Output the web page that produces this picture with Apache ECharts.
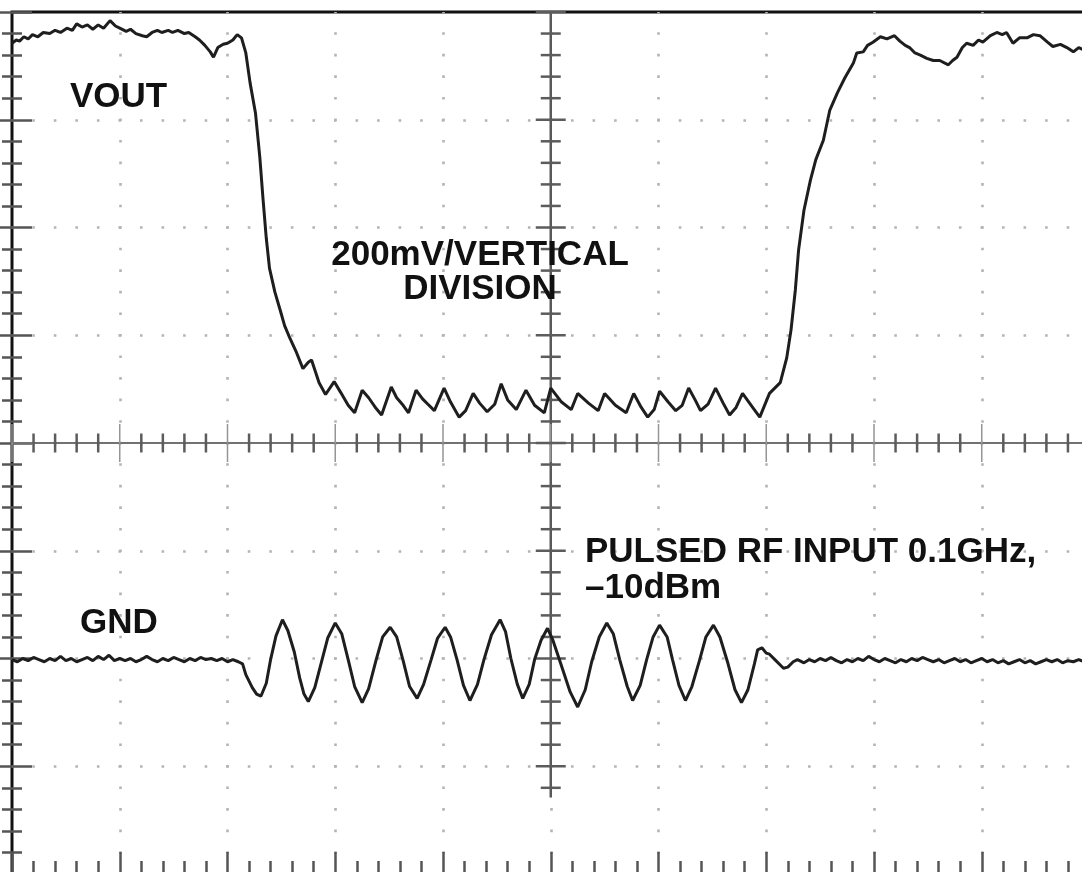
<!DOCTYPE html>
<html>
<head>
<meta charset="utf-8">
<script src="https://cdn.jsdelivr.net/npm/echarts@6/dist/echarts.min.js"></script>
<style>
  html, body { margin: 0; padding: 0; background: #ffffff; }
  #chart { width: 1082px; height: 872px; }
</style>
</head>
<body>
<div id="chart"></div>
<script>
// Scope capture: horizontal position in screen divisions (0..10),
// vertical level in screen divisions (0..8, counted from the bottom edge).

// VOUT trace (detector output, 200mV per vertical division)
const voutTime = [
  0.00,0.04,0.07,0.11,0.15,0.19,0.24,0.29,0.35,0.40,0.45,0.51,0.56,0.60,0.65,0.70,0.75,0.80,0.85,0.91,
  0.96,1.00,1.06,1.10,1.15,1.21,1.25,1.30,1.35,1.39,1.45,1.49,1.54,1.60,1.64,1.70,1.74,1.79,1.84,1.87,
  1.91,1.96,2.00,2.05,2.09,2.13,2.17,2.21,2.26,2.30,2.33,2.36,2.39,2.44,2.49,2.53,2.58,2.64,2.70,2.75,
  2.78,2.85,2.91,2.99,3.05,3.12,3.18,3.25,3.31,3.38,3.43,3.52,3.57,3.63,3.68,3.75,3.81,3.86,3.92,4.01,
  4.07,4.15,4.21,4.28,4.34,4.41,4.48,4.54,4.60,4.68,4.77,4.85,4.94,5.00,5.10,5.19,5.25,5.35,5.44,5.50,
  5.60,5.70,5.77,5.84,5.90,5.96,6.01,6.09,6.16,6.22,6.28,6.34,6.39,6.46,6.53,6.60,6.66,6.72,6.78,6.86,
  6.94,7.03,7.13,7.19,7.23,7.27,7.30,7.35,7.41,7.46,7.53,7.59,7.66,7.73,7.81,7.84,7.90,7.94,7.99,8.06,
  8.12,8.19,8.24,8.29,8.33,8.38,8.43,8.49,8.55,8.61,8.69,8.73,8.77,8.82,8.86,8.92,8.97,9.01,9.08,9.14,
  9.19,9.23,9.29,9.35,9.42,9.48,9.54,9.61,9.66,9.73,9.79,9.85,9.90,9.96,10.00
];
const voutLevel = [
  7.71,7.74,7.73,7.77,7.75,7.79,7.77,7.81,7.80,7.83,7.81,7.85,7.83,7.89,7.86,7.88,7.84,7.88,7.85,7.92,
  7.87,7.85,7.82,7.84,7.80,7.78,7.77,7.81,7.83,7.81,7.83,7.81,7.83,7.80,7.81,7.77,7.74,7.69,7.63,7.58,
  7.67,7.70,7.71,7.74,7.79,7.76,7.62,7.34,7.06,6.65,6.26,5.90,5.62,5.40,5.23,5.09,4.97,4.84,4.69,4.75,
  4.77,4.56,4.45,4.57,4.47,4.35,4.28,4.49,4.42,4.32,4.26,4.52,4.42,4.35,4.28,4.49,4.41,4.36,4.30,4.51,
  4.38,4.24,4.30,4.46,4.37,4.29,4.36,4.55,4.40,4.31,4.49,4.35,4.28,4.51,4.38,4.31,4.46,4.37,4.30,4.46,
  4.35,4.28,4.46,4.33,4.24,4.31,4.48,4.38,4.30,4.35,4.51,4.40,4.30,4.36,4.51,4.37,4.26,4.33,4.46,4.35,
  4.24,4.46,4.56,4.79,5.05,5.42,5.79,6.16,6.44,6.63,6.81,7.09,7.25,7.39,7.53,7.62,7.63,7.69,7.72,7.77,
  7.75,7.78,7.73,7.69,7.67,7.62,7.60,7.57,7.55,7.55,7.51,7.55,7.58,7.67,7.71,7.69,7.74,7.72,7.78,7.81,
  7.79,7.81,7.71,7.76,7.76,7.79,7.78,7.72,7.68,7.70,7.67,7.63,7.67,7.64,7.65
];

// GND trace (pulsed RF input, 0.1GHz at -10dBm)
const gndTime = [
  0.00,0.05,0.10,0.15,0.20,0.25,0.30,0.35,0.40,0.45,0.50,0.55,0.60,0.65,0.70,0.75,0.80,0.85,0.90,0.95,
  1.00,1.05,1.10,1.15,1.20,1.25,1.30,1.35,1.40,1.45,1.50,1.55,1.60,1.65,1.70,1.75,1.80,1.85,1.90,1.95,
  2.00,2.05,2.10,2.14,2.17,2.23,2.27,2.31,2.36,2.40,2.45,2.51,2.56,2.62,2.67,2.71,2.75,2.81,2.87,2.93,
  3.00,3.06,3.12,3.18,3.25,3.31,3.38,3.44,3.51,3.57,3.63,3.69,3.76,3.82,3.89,3.95,4.02,4.07,4.13,4.19,
  4.25,4.32,4.38,4.45,4.53,4.58,4.63,4.69,4.74,4.80,4.85,4.91,4.97,5.02,5.09,5.18,5.25,5.32,5.38,5.45,
  5.52,5.58,5.64,5.71,5.76,5.83,5.89,5.95,6.01,6.08,6.13,6.19,6.25,6.31,6.38,6.44,6.51,6.57,6.64,6.71,
  6.77,6.83,6.89,6.92,6.96,7.00,7.03,7.08,7.13,7.16,7.20,7.25,7.29,7.35,7.40,7.45,7.50,7.55,7.60,7.65,
  7.70,7.75,7.80,7.85,7.90,7.95,8.00,8.05,8.10,8.15,8.20,8.25,8.30,8.35,8.40,8.45,8.50,8.55,8.60,8.65,
  8.70,8.75,8.80,8.85,8.90,8.95,9.00,9.05,9.10,9.15,9.20,9.25,9.30,9.35,9.40,9.45,9.50,9.55,9.60,9.65,
  9.70,9.75,9.80,9.85,9.90,9.95,10.00
];
const gndLevel = [
  1.99,1.97,2.00,1.98,2.01,1.99,1.97,2.00,1.98,2.02,1.98,2.00,1.97,1.99,2.01,1.98,2.02,1.99,2.03,1.98,
  2.00,1.98,2.00,1.97,1.99,2.02,1.99,1.97,2.00,1.98,2.01,1.99,1.97,2.00,1.98,2.01,1.99,2.00,1.98,2.00,
  1.97,1.99,1.97,1.95,1.85,1.73,1.67,1.65,1.77,1.99,2.21,2.36,2.26,2.06,1.82,1.67,1.60,1.73,1.96,2.19,
  2.33,2.23,1.99,1.74,1.59,1.72,1.99,2.20,2.29,2.20,1.98,1.74,1.63,1.76,1.99,2.19,2.29,2.20,1.99,1.75,
  1.61,1.76,1.99,2.22,2.36,2.25,2.00,1.76,1.63,1.76,1.99,2.17,2.28,2.17,1.96,1.69,1.55,1.71,1.97,2.20,
  2.33,2.23,1.99,1.74,1.61,1.75,1.99,2.20,2.31,2.20,1.99,1.75,1.61,1.74,1.98,2.20,2.31,2.20,1.97,1.71,
  1.59,1.71,1.95,2.08,2.10,2.05,2.04,1.99,1.94,1.91,1.92,1.97,1.99,1.96,1.99,1.97,2.00,1.98,2.01,1.98,
  1.96,1.99,1.97,2.00,1.98,2.02,1.99,1.97,2.00,1.98,1.96,1.99,1.97,2.00,1.98,2.01,1.99,1.97,1.99,1.96,
  1.98,2.00,1.97,1.99,1.96,1.98,2.00,1.97,1.99,1.96,1.98,1.95,1.97,1.99,1.96,1.98,1.95,1.97,1.99,1.97,
  1.99,1.96,1.98,1.97,1.99,1.97,1.98
];

const toPairs = (t, v) => t.map((x, i) => [x, v[i]]);

const chart = echarts.init(document.getElementById('chart'), null, { renderer: 'canvas' });

const FONT = 'bold 35px "Liberation Sans", Arial, Helvetica, sans-serif';
const tickStyle = { color: '#555555', width: 2.5 };
const dotStyle = { color: '#b4b4b4', width: 2.6, type: [2.6, 18.95], dashOffset: 1.3 };

// Centre cross of the graticule, with its sub-division ticks
function renderCentreCross(params, api) {
  const children = [];
  const seg = (a, b, stroke, lineWidth) => children.push({
    type: 'line',
    shape: { x1: a[0], y1: a[1], x2: b[0], y2: b[1] },
    style: { stroke, lineWidth }
  });
  seg(api.coord([0, 4]), api.coord([10, 4]), '#727272', 2);
  seg(api.coord([5, 8]), api.coord([5, 0.71]), '#595959', 2.5);
  for (let i = 0; i <= 50; i++) {
    const p = api.coord([i / 5, 4]);
    const major = i % 5 === 0;
    const h = major ? 19 : 9.5;
    seg([p[0], p[1] - h], [p[0], p[1] + h], major ? '#959595' : '#5c5c5c', major ? 1.5 : 2.5);
  }
  for (let i = 4; i <= 40; i++) {
    const p = api.coord([5, i / 5]);
    const major = i % 5 === 0;
    const w = major ? 15 : 10;
    seg([p[0] - w, p[1]], [p[0] + w, p[1]], '#5c5c5c', 2.5);
  }
  return { type: 'group', children };
}

const baseX = {
  type: 'value', min: 0, max: 10, interval: 1,
  axisLine: { show: false }, axisLabel: { show: false },
  axisTick: { show: true, inside: true, length: 22, lineStyle: tickStyle },
  minorTick: { show: true, splitNumber: 5, length: 13, lineStyle: tickStyle }
};
const baseY = {
  type: 'value', min: 0, max: 8, interval: 1,
  axisLine: { show: false }, axisLabel: { show: false },
  axisTick: { show: true, inside: true, length: 20, lineStyle: tickStyle },
  minorTick: { show: true, splitNumber: 5, length: 10, lineStyle: tickStyle }
};

chart.setOption({
  animation: false,
  backgroundColor: '#ffffff',
  grid: {
    left: 12, top: 12, width: 1077.5, height: 862,
    show: true, borderColor: '#111111', borderWidth: 3,
    backgroundColor: 'transparent',
    outerBoundsMode: 'none'
  },
  xAxis: [
    Object.assign({}, baseX, { position: 'bottom',
      splitLine: { show: true, showMinLine: false, showMaxLine: false, lineStyle: dotStyle } }),
    Object.assign({}, baseX, { position: 'top', splitLine: { show: false } })
  ],
  yAxis: [
    Object.assign({}, baseY, { position: 'left',
      splitLine: { show: true, showMinLine: false, showMaxLine: false, lineStyle: dotStyle } }),
    Object.assign({}, baseY, { position: 'right', splitLine: { show: false } })
  ],
  series: [
    {
      type: 'custom', name: 'graticule', silent: true, z: 1,
      xAxisIndex: 0, yAxisIndex: 0,
      data: [[5, 4]],
      renderItem: renderCentreCross
    },
    {
      type: 'line', name: 'VOUT', xAxisIndex: 0, yAxisIndex: 0, z: 5,
      data: toPairs(voutTime, voutLevel),
      showSymbol: false, symbol: 'none', smooth: false,
      lineStyle: { color: '#1e1e1e', width: 3 }
    },
    {
      type: 'line', name: 'GND', xAxisIndex: 0, yAxisIndex: 0, z: 5,
      data: toPairs(gndTime, gndLevel),
      showSymbol: false, symbol: 'none', smooth: false,
      lineStyle: { color: '#1e1e1e', width: 3 }
    }
  ],
  graphic: [
    { type: 'text', x: 70, y: 97, z: 10,
      style: { text: 'VOUT', font: FONT, fill: '#111111',
               align: 'left', verticalAlign: 'middle', textAlign: 'left', textVerticalAlign: 'middle' } },
    { type: 'text', x: 480, y: 272, z: 10,
      style: { text: '200mV/VERTICAL\nDIVISION', font: FONT, fill: '#111111', lineHeight: 34,
               align: 'center', verticalAlign: 'middle', textAlign: 'center', textVerticalAlign: 'middle' } },
    { type: 'text', x: 585, y: 570, z: 10,
      style: { text: 'PULSED RF INPUT 0.1GHz,\n\u201310dBm', font: FONT, fill: '#111111', lineHeight: 36,
               align: 'left', verticalAlign: 'middle', textAlign: 'left', textVerticalAlign: 'middle' } },
    { type: 'text', x: 80, y: 623, z: 10,
      style: { text: 'GND', font: FONT, fill: '#111111',
               align: 'left', verticalAlign: 'middle', textAlign: 'left', textVerticalAlign: 'middle' } }
  ]
});
</script>
</body>
</html>
